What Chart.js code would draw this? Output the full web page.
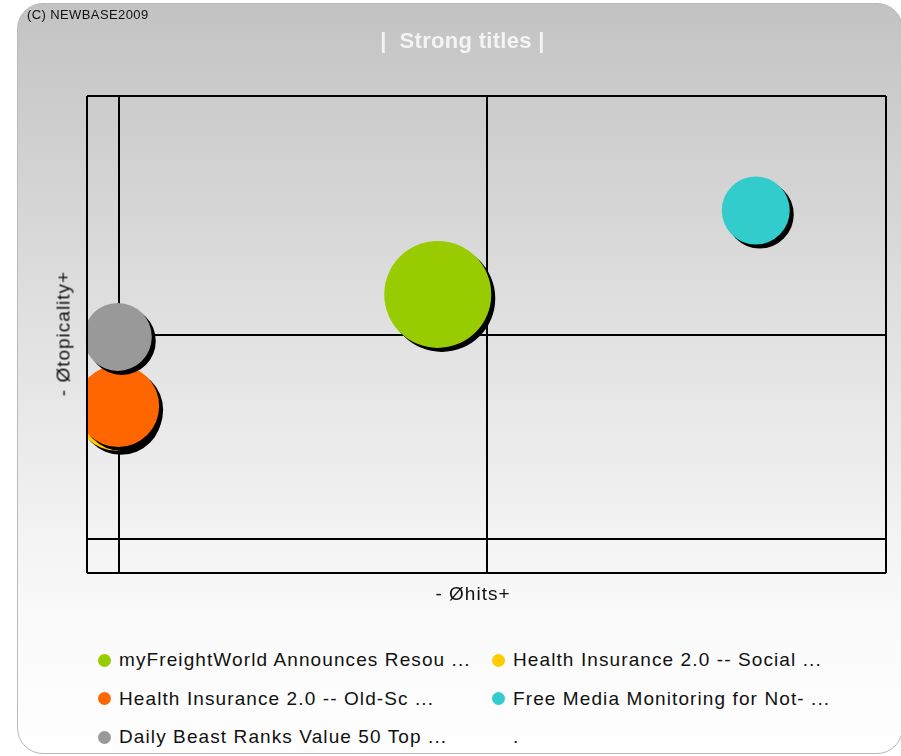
<!DOCTYPE html>
<html>
<head>
<meta charset="utf-8">
<title>Strong titles</title>
<script src="https://cdn.jsdelivr.net/npm/chart.js@4.4.1/dist/chart.umd.min.js"></script>
<style>
  html, body { margin: 0; padding: 0; background: #fff; }
  body { width: 901px; height: 756px; position: relative; overflow: hidden;
         font-family: "Liberation Sans", Arial, sans-serif; color: #111; }
  .panel { position: absolute; left: 17px; top: 3px; width: 886px; height: 751px;
           box-sizing: border-box; border: 1px solid #b9b9b9; border-radius: 26px;
           background: linear-gradient(to bottom, #c3c3c3 0%, #e2e2e2 45%, #fafafa 82%, #fefefe 100%); }
  #chart { position: absolute; left: 0; top: 0; }
  .copy { position: absolute; left: 27px; top: 8px; font-size: 13px; line-height: 13px; letter-spacing: 0.4px; }
  .title { position: absolute; left: 0; width: 925px; top: 30px; text-align: center;
           font-size: 22px; line-height: 22px; font-weight: bold; color: #f4f4f4; letter-spacing: 0.3px; }
  .xtitle { position: absolute; left: 373px; width: 200px; top: 584px; text-align: center;
            font-size: 19px; line-height: 19px; letter-spacing: 1px; }
  .ytitle { position: absolute; left: -37px; width: 200px; top: 324px; text-align: center;
            font-size: 19px; line-height: 19px; letter-spacing: 1px; transform: rotate(-90deg); }
  .legend { position: absolute; left: 98px; top: 641px; display: grid;
            grid-template-columns: 394px 380px; grid-auto-rows: 38.5px; }
  .item { display: flex; align-items: center; font-size: 19px; letter-spacing: 1.1px; white-space: nowrap; }
  .dot { width: 13px; height: 13px; border-radius: 50%; margin-right: 8px; flex: none; }
</style>
</head>
<body>
<div class="panel"></div>
<canvas id="chart" width="901" height="620"></canvas>
<div class="copy">(C) NEWBASE2009</div>
<div class="title">|&nbsp; Strong titles |</div>
<div class="xtitle">- Øhits+</div>
<div class="ytitle">- Øtopicality+</div>
<div class="legend" id="legend"></div>

<script>
// Strong titles — bubble chart: hits (x) vs topicality (y), bubble size = weight

const seriesNames = [
  'myFreightWorld Announces Resou ...',
  'Health Insurance 2.0 -- Social ...',
  'Health Insurance 2.0 -- Old-Sc ...',
  'Free Media Monitoring for Not- ...',
  'Daily Beast Ranks Value 50 Top ...'
];
const seriesColors = ['#99cc00', '#ffcc00', '#ff6600', '#33cccc', '#999999'];
const hitsValues       = [43.9, 3.75, 3.9, 83.7, 3.85];
const topicalityValues = [58.4, 34.2, 35.0, 76.0, 49.5];
const bubbleRadius     = [53.5, 41, 41, 34, 34];
const stackOrder       = [3, 2, 1, 4, 0];   // lower = drawn on top

// grid lines: plot edges plus the two average lines
const xGridTicks = [0, 4, 50, 100];
const yGridTicks = [0, 7.2, 50, 100];

// empty slot shown as "." in the legend
const legendFiller = '.';

const datasets = seriesNames.map((name, i) => ({
  label: name,
  data: [{ x: hitsValues[i], y: topicalityValues[i], r: bubbleRadius[i] }],
  backgroundColor: seriesColors[i],
  borderWidth: 0,
  hoverBorderWidth: 0,
  order: stackOrder[i],
  clip: { left: -1, top: 0, right: 0, bottom: 0 },
}));

const shadowPlugin = {
  id: 'bubbleShadow',
  beforeDatasetDraw(chart) {
    const c = chart.ctx;
    c.save();
    c.shadowColor = '#000';
    c.shadowOffsetX = 4;
    c.shadowOffsetY = 4;
    c.shadowBlur = 0.5;
  },
  afterDatasetDraw(chart) {
    chart.ctx.restore();
  }
};

function gridAxis(tickList) {
  return {
    type: 'linear',
    min: 0,
    max: 100,
    afterBuildTicks: s => { s.ticks = tickList.map(v => ({ value: v })); },
    ticks: { display: false },
    grid: { color: '#000', lineWidth: 2, drawTicks: false },
    border: { display: false },
  };
}

new Chart(document.getElementById('chart'), {
  type: 'bubble',
  data: { datasets },
  options: {
    responsive: false,
    animation: false,
    events: [],
    layout: { autoPadding: false, padding: { left: 87, top: 96, right: 15, bottom: 47 } },
    plugins: { legend: { display: false }, title: { display: false }, tooltip: { enabled: false } },
    scales: { x: gridAxis(xGridTicks), y: gridAxis(yGridTicks) },
  },
  plugins: [shadowPlugin],
});

// legend: two columns, filled row by row
const legendEl = document.getElementById('legend');
const legendItems = seriesNames.map((n, i) => ({ text: n, color: seriesColors[i] }));
legendItems.push({ text: legendFiller, color: 'transparent' });
legendEl.innerHTML = legendItems.map(it => `
  <div class="item"><span class="dot" style="background:${it.color}"></span>${it.text}</div>`).join('');
</script>
</body>
</html>
